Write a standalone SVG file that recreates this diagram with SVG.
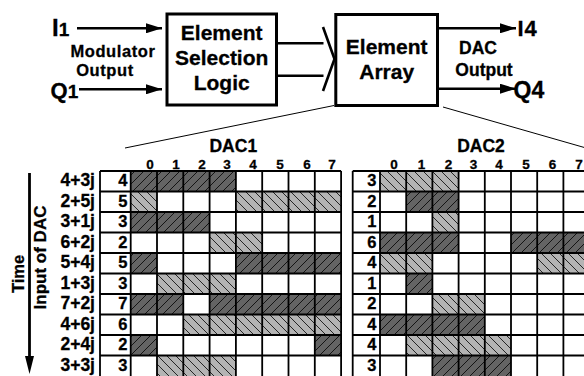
<svg xmlns="http://www.w3.org/2000/svg" width="584" height="376" viewBox="0 0 584 376">
<style>
.t{font-family:"Liberation Sans",Arial,sans-serif;font-weight:bold;fill:#000;stroke:#000;stroke-width:0.3}
.box{fill:#fff;stroke:#000;stroke-width:3}
.ln{stroke:#000;stroke-width:2.6;fill:none}
.zl{stroke:#000;stroke-width:1;fill:none}
.g{stroke:#000;stroke-width:1.8;fill:none}
.d{fill:url(#hd)}
.l{fill:url(#hl)}
</style>
<defs>
<pattern id="hd" patternUnits="userSpaceOnUse" width="9" height="9"><rect width="9" height="9" fill="#646464"/><path d="M-2,2 L2,-2 M0,9 L9,0 M7,11 L11,7" stroke="#000" stroke-width="0.8"/></pattern>
<pattern id="hl" patternUnits="userSpaceOnUse" width="9" height="9"><rect width="9" height="9" fill="#b4b4b4"/><path d="M-2,7 L2,11 M0,0 L9,9 M7,-2 L11,2" stroke="#000" stroke-width="0.8"/></pattern>
<marker id="ah" viewBox="0 0 16 10" refX="16" refY="5" markerWidth="16" markerHeight="10" markerUnits="userSpaceOnUse" orient="auto"><path d="M0,0 L16,5 L0,10 Z" fill="#000"/></marker>
</defs>
<rect width="584" height="376" fill="#fff"/>

<g id="modulator-output">
<text class="t" x="52" y="35.5" font-size="24">I<tspan font-size="19">1</tspan></text>
<text class="t" x="113" y="57" font-size="16.5" letter-spacing="0.6" text-anchor="middle">Modulator</text>
<text class="t" x="105" y="76" font-size="16.5" letter-spacing="0.6" text-anchor="middle">Output</text>
<text class="t" x="50.5" y="97.5" font-size="22">Q<tspan font-size="19">1</tspan></text>
</g>

<g id="element-selection-logic">
<rect class="box" x="167" y="14" width="109.5" height="91"/>
<text class="t" x="221.7" y="39.5" font-size="21" text-anchor="middle">Element</text>
<text class="t" x="221.7" y="65" font-size="21" text-anchor="middle">Selection</text>
<text class="t" x="221.7" y="90" font-size="21" text-anchor="middle">Logic</text>
</g>

<g id="element-array">
<rect class="box" x="335.8" y="14.5" width="101.7" height="91"/>
<text class="t" x="386.7" y="53.5" font-size="21" text-anchor="middle">Element</text>
<text class="t" x="386.7" y="78.5" font-size="21" text-anchor="middle">Array</text>
</g>

<g id="dac-output">
<text class="t" x="478" y="54" font-size="17.5" text-anchor="middle">DAC</text>
<text class="t" x="484" y="75.5" font-size="17.5" text-anchor="middle">Output</text>
<text class="t" x="517.5" y="36" font-size="22" letter-spacing="1">I4</text>
<text class="t" x="513.5" y="97.5" font-size="23">Q4</text>
</g>

<g id="connectors">
<line class="ln" x1="77" y1="28.3" x2="162" y2="28.3" marker-end="url(#ah)"/>
<line class="ln" x1="79" y1="89.3" x2="162" y2="89.3" marker-end="url(#ah)"/>
<line class="ln" x1="277" y1="43.3" x2="323.5" y2="43.3"/>
<line class="ln" x1="277" y1="75.7" x2="323.5" y2="75.7"/>
<path class="ln" d="M323,27 L334.5,59 L323,91"/>
<line class="ln" x1="439" y1="28.3" x2="516" y2="28.3" marker-end="url(#ah)"/>
<line class="ln" x1="439" y1="88.7" x2="516" y2="88.7" marker-end="url(#ah)"/>
<line class="zl" x1="334" y1="105.5" x2="125" y2="148"/>
<line class="zl" x1="443" y1="107" x2="600" y2="152"/>
<line stroke="#000" stroke-width="2.8" x1="29.5" y1="173" x2="29.5" y2="360"/>
<path d="M25,356 L34,356 L29.5,374 Z" fill="#000"/>
</g>

<g id="axis-labels">
<text class="t" x="23.5" y="274" font-size="16.5" text-anchor="middle" transform="rotate(-90 23.5 274)">Time</text>
<text class="t" x="46" y="257.5" font-size="17" text-anchor="middle" transform="rotate(-90 46 257.5)">Input of DAC</text>
<g font-size="17.5" text-anchor="end">
<text class="t" x="95" y="186.3">4+3j</text>
<text class="t" x="95" y="206.8">2+5j</text>
<text class="t" x="95" y="227.3">3+1j</text>
<text class="t" x="95" y="247.8">6+2j</text>
<text class="t" x="95" y="268.3">5+4j</text>
<text class="t" x="95" y="288.8">1+3j</text>
<text class="t" x="95" y="309.3">7+2j</text>
<text class="t" x="95" y="329.8">4+6j</text>
<text class="t" x="95" y="350.3">2+4j</text>
<text class="t" x="95" y="370.8">3+3j</text>
</g>
</g>

<g id="dac1">
<text class="t" x="233.3" y="152" font-size="17.5" text-anchor="middle">DAC1</text>
<g font-size="13.5" text-anchor="middle">
<text class="t" x="150" y="168.5">0</text><text class="t" x="176" y="168.5">1</text><text class="t" x="202" y="168.5">2</text><text class="t" x="227" y="168.5">3</text><text class="t" x="253" y="168.5">4</text><text class="t" x="280" y="168.5">5</text><text class="t" x="307" y="168.5">6</text><text class="t" x="332" y="168.5">7</text>
</g>
<rect x="100" y="171" width="241.1" height="206" fill="#fff"/>
<rect class="d" x="130.7" y="171" width="105.2" height="20.5"/>
<rect class="l" x="130.7" y="191.5" width="26.3" height="20.5"/>
<rect class="l" x="235.9" y="191.5" width="105.2" height="20.5"/>
<rect class="d" x="130.7" y="212" width="78.9" height="20.5"/>
<rect class="l" x="209.6" y="232.5" width="52.6" height="20.5"/>
<rect class="d" x="130.7" y="253" width="26.3" height="20.5"/>
<rect class="d" x="235.9" y="253" width="105.2" height="20.5"/>
<rect class="l" x="157" y="273.5" width="78.9" height="20.5"/>
<rect class="d" x="130.7" y="294" width="52.6" height="20.5"/>
<rect class="d" x="209.6" y="294" width="131.5" height="20.5"/>
<rect class="l" x="183.3" y="314.5" width="157.8" height="20.5"/>
<rect class="d" x="130.7" y="335" width="26.3" height="20.5"/>
<rect class="d" x="314.8" y="335" width="26.3" height="20.5"/>
<rect class="l" x="157" y="355.5" width="78.9" height="20.5"/>
<path class="g" d="M100,171V377M130.7,171V377M157,171V377M183.3,171V377M209.6,171V377M235.9,171V377M262.2,171V377M288.5,171V377M314.8,171V377M341.1,171V377M100,171H341.1M100,191.5H341.1M100,212H341.1M100,232.5H341.1M100,253H341.1M100,273.5H341.1M100,294H341.1M100,314.5H341.1M100,335H341.1M100,355.5H341.1"/>
<g font-size="16.5" text-anchor="end">
<text class="t" x="127.5" y="186.3">4</text>
<text class="t" x="127.5" y="206.8">5</text>
<text class="t" x="127.5" y="227.3">3</text>
<text class="t" x="127.5" y="247.8">2</text>
<text class="t" x="127.5" y="268.3">5</text>
<text class="t" x="127.5" y="288.8">3</text>
<text class="t" x="127.5" y="309.3">7</text>
<text class="t" x="127.5" y="329.8">6</text>
<text class="t" x="127.5" y="350.3">2</text>
<text class="t" x="127.5" y="370.8">3</text>
</g>
</g>

<g id="dac2">
<text class="t" x="481" y="152" font-size="17.5" text-anchor="middle">DAC2</text>
<g font-size="13.5" text-anchor="middle">
<text class="t" x="394" y="168.5">0</text><text class="t" x="421.5" y="168.5">1</text><text class="t" x="448.5" y="168.5">2</text><text class="t" x="473.5" y="168.5">3</text><text class="t" x="499" y="168.5">4</text><text class="t" x="526" y="168.5">5</text><text class="t" x="552.5" y="168.5">6</text><text class="t" x="579" y="168.5">7</text>
</g>
<rect x="352.7" y="171" width="240" height="206" fill="#fff"/>
<rect class="l" x="380" y="171" width="78.6" height="20.5"/>
<rect class="d" x="406.2" y="191.5" width="52.4" height="20.5"/>
<rect class="l" x="432.4" y="212" width="26.2" height="20.5"/>
<rect class="d" x="380" y="232.5" width="78.6" height="20.5"/>
<rect class="d" x="511" y="232.5" width="78.6" height="20.5"/>
<rect class="l" x="380" y="253" width="52.4" height="20.5"/>
<rect class="l" x="537.2" y="253" width="52.4" height="20.5"/>
<rect class="d" x="406.2" y="273.5" width="26.2" height="20.5"/>
<rect class="l" x="432.4" y="294" width="52.4" height="20.5"/>
<rect class="d" x="380" y="314.5" width="104.8" height="20.5"/>
<rect class="l" x="406.2" y="335" width="104.8" height="20.5"/>
<rect class="d" x="432.4" y="355.5" width="78.6" height="20.5"/>
<path class="g" d="M352.7,171V377M380,171V377M406.2,171V377M432.4,171V377M458.6,171V377M484.8,171V377M511,171V377M537.2,171V377M563.4,171V377M589.6,171V377M352.7,171H589.6M352.7,191.5H589.6M352.7,212H589.6M352.7,232.5H589.6M352.7,253H589.6M352.7,273.5H589.6M352.7,294H589.6M352.7,314.5H589.6M352.7,335H589.6M352.7,355.5H589.6"/>
<g font-size="16.5" text-anchor="end">
<text class="t" x="376.5" y="186.3">3</text>
<text class="t" x="376.5" y="206.8">2</text>
<text class="t" x="376.5" y="227.3">1</text>
<text class="t" x="376.5" y="247.8">6</text>
<text class="t" x="376.5" y="268.3">4</text>
<text class="t" x="376.5" y="288.8">1</text>
<text class="t" x="376.5" y="309.3">2</text>
<text class="t" x="376.5" y="329.8">4</text>
<text class="t" x="376.5" y="350.3">4</text>
<text class="t" x="376.5" y="370.8">3</text>
</g>
</g>
</svg>
